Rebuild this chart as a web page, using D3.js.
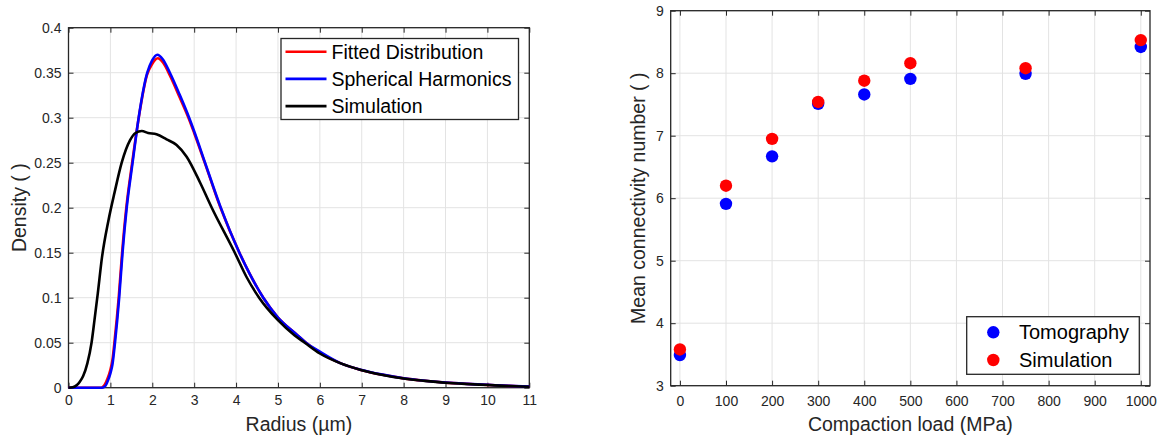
<!DOCTYPE html>
<html>
<head>
<meta charset="utf-8">
<script src="https://cdn.jsdelivr.net/npm/d3@7"></script>
<style>
  html, body { margin: 0; padding: 0; background: #fff; }
  svg { display: block; font-family: "Liberation Sans", Arial, Helvetica, sans-serif; }
</style>
</head>
<body>
<svg id="chart" width="1158" height="435"></svg>
<script>
// ---- Particle radius distributions (left panel) ----
const radiusFitted = [0, 0.5, 0.78, 0.86, 0.93, 1.0, 1.05, 1.1, 1.2, 1.28, 1.38, 1.52, 1.67, 1.87, 2.0, 2.13, 2.26, 2.42, 2.65, 2.88, 3.0, 3.26, 3.62, 4.08, 4.32, 4.65, 5.0, 5.45, 5.67, 6.0, 6.5, 7.0, 7.5, 8.0, 8.5, 9.0, 9.5, 10.0, 10.5, 11.0];
const densityFitted = [0, 0, 0, 0.003, 0.010, 0.020, 0.031, 0.052, 0.101, 0.150, 0.200, 0.250, 0.298, 0.347, 0.360, 0.366, 0.361, 0.347, 0.323, 0.298, 0.283, 0.249, 0.201, 0.150, 0.127, 0.100, 0.078, 0.059, 0.050, 0.039, 0.027, 0.0195, 0.0143, 0.0104, 0.0077, 0.0056, 0.0042, 0.0031, 0.0020, 0.0011];

const radiusHarmonics = [0, 0.5, 0.8, 0.88, 0.95, 1.0, 1.05, 1.11, 1.21, 1.29, 1.39, 1.53, 1.675, 1.88, 2.0, 2.12, 2.25, 2.42, 2.65, 2.88, 3.0, 3.26, 3.62, 4.08, 4.32, 4.65, 5.0, 5.45, 5.67, 6.0, 6.5, 7.0, 7.5, 8.0, 8.5, 9.0, 9.5, 10.0, 10.5, 11.0];
const densityHarmonics = [0, 0, 0, 0.002, 0.009, 0.016, 0.026, 0.050, 0.100, 0.150, 0.200, 0.250, 0.300, 0.350, 0.364, 0.370, 0.365, 0.350, 0.326, 0.300, 0.285, 0.250, 0.202, 0.150, 0.127, 0.100, 0.078, 0.059, 0.050, 0.040, 0.027, 0.0197, 0.0145, 0.0105, 0.0078, 0.0057, 0.0043, 0.0032, 0.0020, 0.0012];

const radiusSimulation = [0, 0.1, 0.2, 0.27, 0.35, 0.45, 0.55, 0.62, 0.7, 0.8, 0.95, 1.1, 1.27, 1.47, 1.6, 1.75, 1.9, 2.1, 2.34, 2.58, 2.82, 3.14, 3.42, 3.97, 4.25, 4.55, 5.0, 5.4, 5.64, 6.0, 6.5, 7.0, 7.5, 8.0, 8.5, 9.0, 9.5, 10.0, 10.5, 11.0];
const densitySimulation = [0, 0.0005, 0.003, 0.0067, 0.013, 0.027, 0.050, 0.075, 0.105, 0.145, 0.185, 0.217, 0.250, 0.275, 0.283, 0.2852, 0.283, 0.2815, 0.276, 0.2697, 0.2567, 0.228, 0.200, 0.150, 0.123, 0.100, 0.075, 0.058, 0.050, 0.038, 0.027, 0.0195, 0.0142, 0.0102, 0.0076, 0.0055, 0.0041, 0.0030, 0.0019, 0.0010];

const radiusTicks = [0, 1, 2, 3, 4, 5, 6, 7, 8, 9, 10, 11];
const densityTicks = [0, 0.05, 0.1, 0.15, 0.2, 0.25, 0.3, 0.35, 0.4];
const densityTickLabels = ["0", "0.05", "0.1", "0.15", "0.2", "0.25", "0.3", "0.35", "0.4"];

const distributionNames = ["Fitted Distribution", "Spherical Harmonics", "Simulation"];
const distributionColors = ["#ff0000", "#0000ff", "#000000"];

// ---- Connectivity versus compaction load (right panel) ----
const compactionLoad = [0, 100, 200, 300, 400, 500, 750, 1000];
const connectivityTomography = [3.49, 5.91, 6.67, 7.51, 7.66, 7.91, 7.99, 8.42];
const connectivitySimulation = [3.58, 6.20, 6.95, 7.54, 7.88, 8.16, 8.08, 8.53];

const loadTicks = [0, 100, 200, 300, 400, 500, 600, 700, 800, 900, 1000];
const connectivityTicks = [3, 4, 5, 6, 7, 8, 9];

const connectivityNames = ["Tomography", "Simulation"];
const connectivityColors = ["#0000ff", "#ff0000"];

const svg = d3.select("#chart");
const axisColor = "#262626";
const gridColor = "#e3e3e3";
const labelSize = "19.5px";

// Draws a boxed axes frame: grid, inward ticks on all four sides, tick labels.
function drawFrame(g, x, y, xTicks, yTicks, xFormat, yFormat, xLabelOffset) {
  const [x0, x1] = x.range();
  const [y0, y1] = y.range(); // y0 bottom, y1 top
  const tickLen = 5;

  g.append("g").selectAll("line").data(xTicks).join("line")
    .attr("x1", d => x(d)).attr("x2", d => x(d))
    .attr("y1", y0).attr("y2", y1)
    .attr("stroke", gridColor).attr("stroke-width", 1);
  g.append("g").selectAll("line").data(yTicks).join("line")
    .attr("x1", x0).attr("x2", x1)
    .attr("y1", d => y(d)).attr("y2", d => y(d))
    .attr("stroke", gridColor).attr("stroke-width", 1);

  const bottom = g.append("g").attr("transform", `translate(0,${y0})`)
    .call(d3.axisBottom(x).tickValues(xTicks).tickSizeInner(-tickLen).tickSizeOuter(0).tickPadding(xLabelOffset).tickFormat(xFormat));
  const top = g.append("g").attr("transform", `translate(0,${y1})`)
    .call(d3.axisTop(x).tickValues(xTicks).tickSizeInner(-tickLen).tickSizeOuter(0).tickFormat(""));
  const left = g.append("g").attr("transform", `translate(${x0},0)`)
    .call(d3.axisLeft(y).tickValues(yTicks).tickSizeInner(-tickLen).tickSizeOuter(0).tickPadding(7).tickFormat(yFormat));
  const right = g.append("g").attr("transform", `translate(${x1},0)`)
    .call(d3.axisRight(y).tickValues(yTicks).tickSizeInner(-tickLen).tickSizeOuter(0).tickFormat(""));

  [bottom, top, left, right].forEach(a => {
    a.select(".domain").remove();
    a.selectAll(".tick line").attr("stroke", axisColor).attr("stroke-width", 1);
    a.selectAll(".tick text").attr("fill", axisColor).style("font-size", "14px")
      .style("font-family", '"Liberation Sans", Arial, sans-serif');
  });

  g.append("rect")
    .attr("x", x0).attr("y", y1)
    .attr("width", x1 - x0).attr("height", y0 - y1)
    .attr("fill", "none").attr("stroke", axisColor).attr("stroke-width", 1.3);
}

// ---------- Left panel ----------
{
  const x = d3.scaleLinear().domain([0, 11]).range([68.5, 529.3]);
  const y = d3.scaleLinear().domain([0, 0.4]).range([387.7, 27.7]);
  const g = svg.append("g");

  drawFrame(g, x, y, radiusTicks, densityTicks, d3.format("d"), (d, i) => densityTickLabels[i], 7);

  const series = [
    [radiusFitted, densityFitted],
    [radiusHarmonics, densityHarmonics],
    [radiusSimulation, densitySimulation]
  ];
  const line = d3.line().x(d => x(d[0])).y(d => y(d[1])).curve(d3.curveMonotoneX);
  series.forEach(([rs, ds], i) => {
    g.append("path")
      .datum(rs.map((r, j) => [r, ds[j]]))
      .attr("d", line)
      .attr("fill", "none")
      .attr("stroke", distributionColors[i])
      .attr("stroke-width", 2.6)
      .attr("stroke-linejoin", "round");
  });

  g.append("text")
    .attr("x", (x.range()[0] + x.range()[1]) / 2).attr("y", 431)
    .attr("text-anchor", "middle").attr("fill", axisColor)
    .style("font-size", labelSize).text("Radius (µm)");
  g.append("text")
    .attr("transform", `translate(26,${(y.range()[0] + y.range()[1]) / 2}) rotate(-90)`)
    .attr("text-anchor", "middle").attr("fill", axisColor)
    .style("font-size", labelSize).text("Density ( )");

  // legend
  const lg = g.append("g");
  lg.append("rect").attr("x", 281).attr("y", 38.5).attr("width", 237.5).attr("height", 81)
    .attr("fill", "#fff").attr("stroke", axisColor).attr("stroke-width", 1.3);
  distributionNames.forEach((name, i) => {
    const yy = 51.7 + i * 27.2;
    lg.append("line").attr("x1", 285.5).attr("x2", 326.5).attr("y1", yy).attr("y2", yy)
      .attr("stroke", distributionColors[i]).attr("stroke-width", 2.6);
    lg.append("text").attr("x", 331.5).attr("y", yy).attr("dy", "0.35em")
      .attr("fill", "#000").style("font-size", labelSize).text(name);
  });
}

// ---------- Right panel ----------
{
  const x = d3.scaleLinear().domain([-20, 1020]).range([670.7, 1150]);
  const y = d3.scaleLinear().domain([3, 9]).range([385.7, 10.7]);
  const g = svg.append("g");

  drawFrame(g, x, y, loadTicks, connectivityTicks, d3.format("d"), d3.format("d"), 10);

  const sets = [connectivityTomography, connectivitySimulation];
  sets.forEach((vals, i) => {
    g.append("g").selectAll("circle").data(compactionLoad).join("circle")
      .attr("cx", d => x(d))
      .attr("cy", (d, j) => y(vals[j]))
      .attr("r", 6.2)
      .attr("fill", connectivityColors[i]);
  });

  g.append("text")
    .attr("x", (x.range()[0] + x.range()[1]) / 2).attr("y", 431)
    .attr("text-anchor", "middle").attr("fill", axisColor)
    .style("font-size", labelSize).text("Compaction load (MPa)");
  g.append("text")
    .attr("transform", `translate(645,${(y.range()[0] + y.range()[1]) / 2}) rotate(-90)`)
    .attr("text-anchor", "middle").attr("fill", axisColor)
    .style("font-size", labelSize).text("Mean connectivity number ( )");

  // legend
  const lg = g.append("g");
  lg.append("rect").attr("x", 966.7).attr("y", 316.7).attr("width", 172.6).attr("height", 57.6)
    .attr("fill", "#fff").attr("stroke", axisColor).attr("stroke-width", 1.3);
  connectivityNames.forEach((name, i) => {
    const yy = 332.3 + i * 27.7;
    lg.append("circle").attr("cx", 993.3).attr("cy", yy).attr("r", 6.2)
      .attr("fill", connectivityColors[i]);
    lg.append("text").attr("x", 1019).attr("y", yy).attr("dy", "0.35em")
      .attr("fill", "#000").style("font-size", "20px").text(name);
  });
}
</script>
</body>
</html>
